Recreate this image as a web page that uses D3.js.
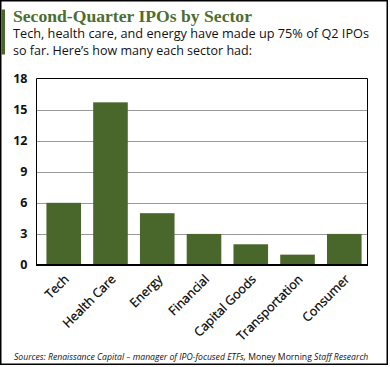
<!DOCTYPE html>
<html>
<head>
<meta charset="utf-8">
<script src="https://cdn.jsdelivr.net/npm/d3@7"></script>
<style>
  body { margin: 0; background: #fff; }
  svg { display: block; }
</style>
</head>
<body>
<div class="chart"></div>
<script>
// data
var sectors = ['Tech', 'Health Care', 'Energy', 'Financial', 'Capital Goods', 'Transportation', 'Consumer']
var ipoCounts = [6, 15.7, 5, 3, 2, 1, 3]
var yTicks = [0, 3, 6, 9, 12, 15, 18]

var W = 390, H = 367
var green = '#4a672b'

// plot frame
var plot = { left: 36.5, right: 367.5, top: 78.5, bottom: 265 }

var svg = d3.select('.chart').append('svg')
  .attr('width', W)
  .attr('height', H)

// outer border
svg.append('rect')
  .attr('x', 0.75).attr('y', 0.75)
  .attr('width', 386.5).attr('height', 363.5)
  .attr('fill', '#fff')
  .attr('stroke', '#000')
  .attr('stroke-width', 1.5)

// green accent bar next to the header
svg.append('rect')
  .attr('x', 1.5).attr('y', 9.5)
  .attr('width', 3.5).attr('height', 45)
  .attr('fill', green)

// header
svg.append('text')
  .attr('x', 13).attr('y', 22)
  .attr('textLength', 239)
  .attr('lengthAdjust', 'spacingAndGlyphs')
  .style('font-family', '"Liberation Serif", serif')
  .style('font-weight', 'bold')
  .style('font-size', '17.5px')
  .style('fill', '#4e6e2e')
  .text('Second-Quarter IPOs by Sector')

var sub = ['Tech, health care, and energy have made up 75% of Q2 IPOs',
  'so far. Here\u2019s how many each sector had:']
var subLen = [356, 239]
svg.selectAll('text.sub')
  .data(sub)
  .enter().append('text')
  .attr('class', 'sub')
  .attr('x', 13)
  .attr('y', (d, i) => 38 + i * 17)
  .attr('textLength', (d, i) => subLen[i])
  .attr('lengthAdjust', 'spacingAndGlyphs')
  .style('font-family', '"Open Sans", sans-serif')
  .style('font-size', '12.5px')
  .style('fill', '#111')
  .text(d => d)

var x = d3.scaleBand()
  .domain(sectors)
  .range([38, 370])
  .paddingInner(0.26)
  .paddingOuter(0.18)

var y = d3.scaleLinear()
  .domain([0, 18])
  .range([plot.bottom, plot.top])

// grid lines
svg.append('g')
  .selectAll('line')
  .data(yTicks.filter(t => t > 0 && t < 18))
  .enter().append('line')
  .attr('x1', plot.left).attr('x2', plot.right)
  .attr('y1', d => Math.round(y(d)) + 0.5)
  .attr('y2', d => Math.round(y(d)) + 0.5)
  .attr('stroke', '#999')
  .attr('stroke-width', 1)

// bars
svg.append('g')
  .selectAll('rect')
  .data(sectors)
  .enter().append('rect')
  .attr('x', d => x(d))
  .attr('width', x.bandwidth())
  .attr('y', (d, i) => y(ipoCounts[i]))
  .attr('height', (d, i) => plot.bottom - y(ipoCounts[i]))
  .attr('fill', green)

// frame: left, top, right thin, bottom axis heavier
svg.append('path')
  .attr('d', 'M' + plot.left + ',' + plot.bottom + 'V' + plot.top + 'H' + plot.right + 'V' + plot.bottom)
  .attr('fill', 'none')
  .attr('stroke', '#000')
  .attr('stroke-width', 1)
svg.append('line')
  .attr('x1', plot.left - 0.5).attr('x2', plot.right + 0.5)
  .attr('y1', plot.bottom).attr('y2', plot.bottom)
  .attr('stroke', '#000')
  .attr('stroke-width', 2)

// y tick labels
svg.append('g')
  .selectAll('text')
  .data(yTicks)
  .enter().append('text')
  .attr('x', 27.5)
  .attr('y', d => y(d))
  .attr('dy', '0.35em')
  .attr('text-anchor', 'end')
  .style('font-family', '"Open Sans", sans-serif')
  .style('font-weight', 'bold')
  .style('font-size', '12.5px')
  .style('fill', '#111')
  .text(d => d)

// x labels, rotated
svg.append('g')
  .selectAll('text')
  .data(sectors)
  .enter().append('text')
  .attr('transform', d => 'translate(' + (x(d) + x.bandwidth() / 2 + 6) + ',' + 280 + ') rotate(-45)')
  .attr('text-anchor', 'end')
  .style('font-family', '"Open Sans", sans-serif')
  .style('font-size', '12.5px')
  .style('fill', '#000')
  .style('stroke', '#000')
  .style('stroke-width', 0.25)
  .text(d => d)

// source line, pieces laid out one after another and scaled to fit
var srcParts = [
  { t: 'Sources: Renaissance Capital \u2013 manager of IPO-focused ETFs, ', it: true },
  { t: 'Money Morning ', it: false },
  { t: 'Staff Research', it: true }
]
var srcG = svg.append('g')
var srcTexts = srcParts.map(p => srcG.append('text')
  .attr('y', 359.5)
  .style('font-family', '"Open Sans", sans-serif')
  .style('font-style', p.it ? 'italic' : 'normal')
  .style('font-size', '9px')
  .style('fill', '#111')
  .style('white-space', 'pre')
  .text(p.t))
var total = d3.sum(srcTexts, s => s.node().getComputedTextLength())
var fs = 9 * 355 / total
var cx = 14
srcTexts.forEach(s => {
  s.style('font-size', fs + 'px').attr('x', cx)
  cx += s.node().getComputedTextLength()
})
</script>
</body>
</html>
